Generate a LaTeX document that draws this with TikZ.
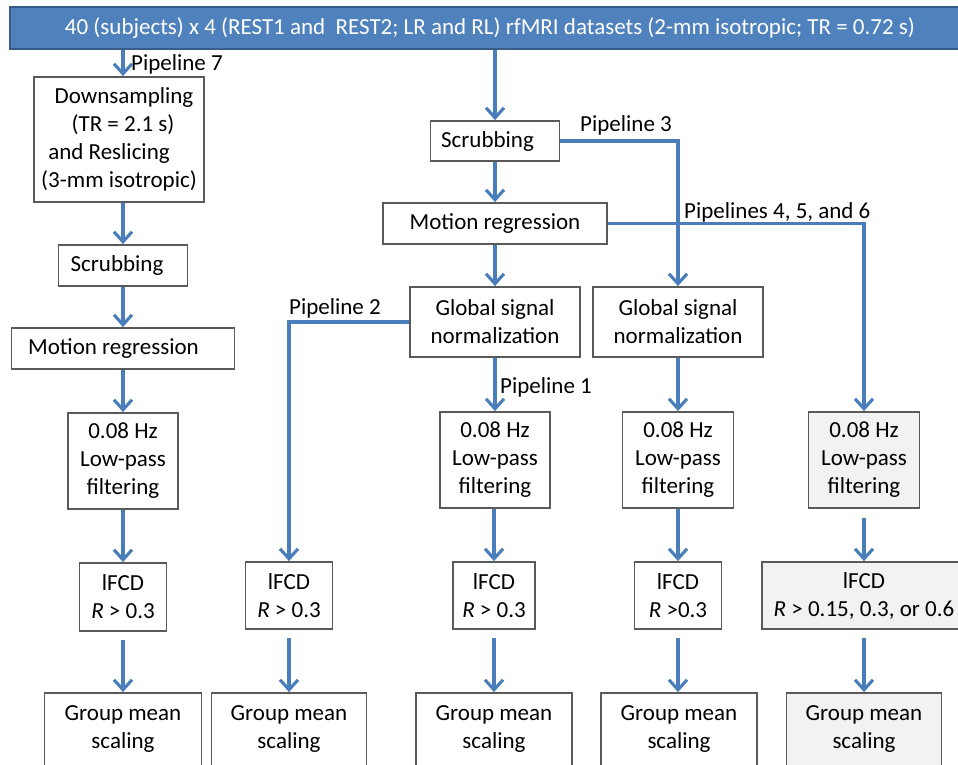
\documentclass[tikz,border=0pt]{standalone}
\usepackage{fontspec}
\setmainfont{Carlito}
\usetikzlibrary{arrows.meta}
\definecolor{flow}{RGB}{74,126,187}
\definecolor{bannerfill}{RGB}{79,129,189}
\definecolor{bannerline}{RGB}{56,93,138}
\definecolor{boxline}{RGB}{90,90,90}
\definecolor{shade}{RGB}{242,242,242}
\tikzset{
  stepbox/.style={draw=boxline, line width=1.8pt, fill=white, inner sep=0pt, align=center},
  graybox/.style={stepbox, fill=shade},
  banner/.style={draw=bannerline, line width=2pt, fill=bannerfill, text=white, inner sep=0pt},
  flowarrow/.style={draw=flow, line width=3.1pt, -{Straight Barb[length=10pt,width=18pt]}},
  lbl/.style={inner sep=0pt, anchor=west}
}
\begin{document}
\begin{tikzpicture}[x=1pt, y=-1pt, font=\fontsize{23}{28}\selectfont]
\useasboundingbox (0,0) rectangle (958,765);

% banner
\node[banner, minimum width=960pt, minimum height=42pt] (top) at (490,28)
  {40 (subjects) x 4 (REST1 and\ \ REST2; LR and RL) rfMRI datasets (2-mm isotropic; TR = 0.72 s)};

% left column (Pipeline 7)
\node[stepbox, minimum width=170pt, minimum height=125pt] (ds) at (119,139.5)
  {\rule{10pt}{0pt}Downsampling\\\rule{8pt}{0pt}(TR = 2.1 s)\\and Reslicing\rule{20pt}{0pt}\\(3-mm isotropic)};
\node[stepbox, minimum width=129pt, minimum height=41pt] (scrL) at (123,265.5) {Scrubbing\rule{12pt}{0pt}};
\node[stepbox, minimum width=223pt, minimum height=41pt] (motL) at (123,348.5) {Motion regression\rule{19pt}{0pt}};
\node[stepbox, minimum width=110pt, minimum height=96pt] (f1) at (123,461) {0.08 Hz\\Low-pass\\filtering};
\node[stepbox, minimum width=87pt, minimum height=68pt] (i1) at (123,597) {lFCD\\\textit{R} > 0.3};
\node[stepbox, minimum width=157pt, minimum height=77pt] (g1) at (123,731.5) {Group mean\\scaling\rule[-8pt]{0pt}{8pt}};

% central column
\node[stepbox, minimum width=129pt, minimum height=40pt] (scrC) at (495,141) {Scrubbing\rule{15pt}{0pt}};
\node[stepbox, minimum width=224pt, minimum height=41pt] (motC) at (495,223.5) {Motion regression};
\node[stepbox, minimum width=170pt, minimum height=70pt] (gs1) at (495,322) {Global signal\\normalization};
\node[stepbox, minimum width=170pt, minimum height=70pt] (gs2) at (678,322) {Global signal\\normalization};

% filtering row
\node[stepbox, minimum width=110pt, minimum height=96pt] (f3) at (495,460) {0.08 Hz\\Low-pass\\filtering};
\node[stepbox, minimum width=111pt, minimum height=96pt] (f4) at (678,460) {0.08 Hz\\Low-pass\\filtering};
\node[graybox, minimum width=111pt, minimum height=96pt] (f5) at (864,460) {0.08 Hz\\Low-pass\\filtering};

% lFCD row
\node[stepbox, minimum width=87pt, minimum height=67pt] (i2) at (289,595.5) {lFCD\\\textit{R} > 0.3};
\node[stepbox, minimum width=82pt, minimum height=67pt] (i3) at (494,595.5) {lFCD\\\textit{R} > 0.3};
\node[stepbox, minimum width=87pt, minimum height=67pt] (i4) at (678,595.5) {lFCD\\\textit{R} >0.3};
\node[graybox, minimum width=204pt, minimum height=67pt] (i5) at (864,595.5) {lFCD\\\textit{R} > 0.15, 0.3, or 0.6};

% group mean row
\node[stepbox, minimum width=155pt, minimum height=77pt] (g2) at (289,731.5) {Group mean\\scaling\rule[-8pt]{0pt}{8pt}};
\node[stepbox, minimum width=156pt, minimum height=77pt] (g3) at (494,731.5) {Group mean\\scaling\rule[-8pt]{0pt}{8pt}};
\node[stepbox, minimum width=156pt, minimum height=77pt] (g4) at (679,731.5) {Group mean\\scaling\rule[-8pt]{0pt}{8pt}};
\node[graybox, minimum width=155pt, minimum height=77pt] (g5) at (864,731.5) {Group mean\\scaling\rule[-8pt]{0pt}{8pt}};

% labels
\node[lbl] (p7) at (131,64) {Pipeline 7};
\node[lbl] (p3) at (580,125) {Pipeline 3};
\node[lbl] (p456) at (684,212) {Pipelines 4, 5, and 6};
\node[lbl] (p2) at (289,308) {Pipeline 2};
\node[lbl] (p1) at (500,387) {Pipeline 1};

% connectors
\draw[flowarrow] (top.south -| scrL.north) -- (ds.north -| scrL.north);
\draw[flowarrow] (top.south -| scrC.north) -- (scrC.north);
\draw[flowarrow] (ds.south -| scrL.north) -- (scrL.north);
\draw[flowarrow] (scrL.south) -- (motL.north);
\draw[flowarrow] (motL.south) -- (f1.north);
\draw[flowarrow] (f1.south) -- (i1.north);
\draw[flowarrow, shorten <=8pt] (i1.south) -- (g1.north);

\draw[flowarrow] (scrC.south) -- (motC.north);
\draw[flowarrow] (motC.south) -- (gs1.north);
\draw[flowarrow] (gs1.south) -- (f3.north);
\draw[flowarrow] (f3.south -| i3.north) -- (i3.north);
\draw[flowarrow, shorten <=8pt] (i3.south) -- (g3.north);

\draw[flowarrow] (gs1.west) -| (i2.north);
\draw[flowarrow, shorten <=8pt] (i2.south) -- (g2.north);

\draw[flowarrow] (scrC.east) -| (gs2.north);
\draw[flowarrow] (gs2.south) -- (f4.north);
\draw[flowarrow] (f4.south) -- (i4.north);
\draw[flowarrow, shorten <=8pt] (i4.south) -- (g4.north -| i4.south);

\draw[flowarrow] (motC.east) -| (f5.north);
\draw[flowarrow, shorten <=9pt] (f5.south) -- (i5.north);
\draw[flowarrow, shorten <=8pt] (i5.south) -- (g5.north);
\end{tikzpicture}
\end{document}
